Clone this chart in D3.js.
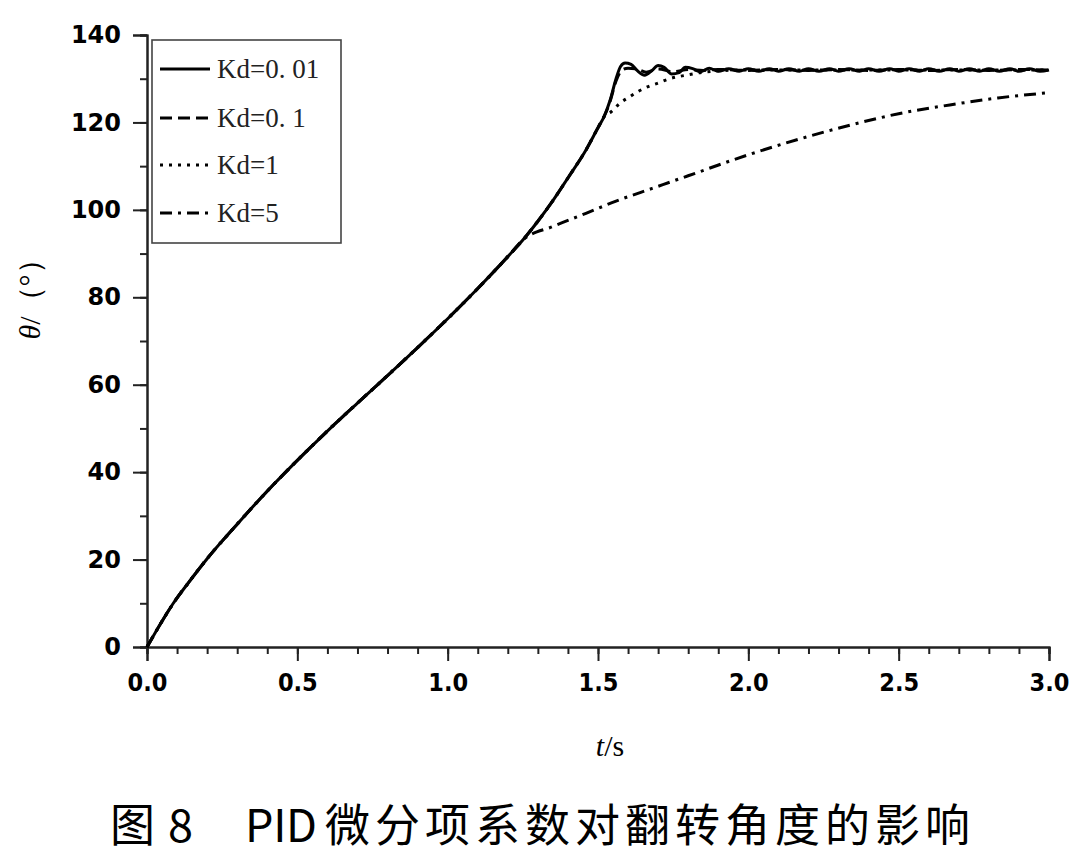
<!DOCTYPE html>
<html><head><meta charset="utf-8">
<script src="https://cdn.jsdelivr.net/npm/d3@7"></script>
<style>body{margin:0;background:#fff}svg{display:block}</style>
</head><body>
<svg id="c" width="1080" height="857"></svg>
<script>
// ---- data ----
const xTicks = [0, 0.5, 1.0, 1.5, 2.0, 2.5, 3.0];
const yTicks = [0, 20, 40, 60, 80, 100, 120, 140];
const seriesNames = ["Kd=0. 01", "Kd=0. 1", "Kd=1", "Kd=5"];

// shared rise (all Kd)
const baseT = [0, 0.05, 0.0875, 0.14, 0.2, 0.3, 0.42, 0.5, 0.6, 0.7, 0.8, 0.9, 1.0, 1.1, 1.2, 1.25];
const baseV = [0, 5.9, 10.0, 14.9, 20.2, 28.1, 37.1, 42.7, 49.4, 55.8, 62.1, 68.5, 75.1, 82.0, 89.3, 93.1];
// shared continuation for Kd = 0.01, 0.1, 1
const midT = [1.3, 1.35, 1.4, 1.46, 1.5, 1.52];
const midV = [97.4, 102.1, 107.3, 113.7, 118.8, 121.3];

const kd001T = [1.54, 1.56, 1.575, 1.59, 1.61, 1.63, 1.655, 1.68, 1.70, 1.72, 1.745, 1.77, 1.79, 1.815, 1.84,
  1.87, 1.90, 1.935, 1.97, 2.0, 2.035, 2.07, 2.10, 2.135, 2.17, 2.20, 2.235, 2.27, 2.30, 2.335, 2.37, 2.40,
  2.435, 2.47, 2.50, 2.535, 2.57, 2.60, 2.635, 2.67, 2.70, 2.735, 2.77, 2.80, 2.835, 2.87, 2.90, 2.935, 2.97, 3.0];
const kd001V = [125.0, 130.0, 132.8, 133.6, 133.3, 131.9, 130.8, 131.9, 133.0, 132.6, 131.1, 131.4, 132.6, 132.3, 131.6,
  132.4, 131.7, 132.3, 131.7, 132.3, 131.7, 132.3, 131.7, 132.3, 131.7, 132.3, 131.7, 132.3, 131.7, 132.3, 131.7, 132.3,
  131.7, 132.3, 131.7, 132.3, 131.7, 132.3, 131.7, 132.3, 131.7, 132.3, 131.7, 132.3, 131.7, 132.3, 131.7, 132.3, 131.7, 132.0];

const kd01T = [1.54, 1.56, 1.58, 1.60, 1.63, 1.66, 1.70, 1.75, 1.80, 1.85, 1.9, 2.0, 2.1, 2.2, 2.3, 2.4, 2.5, 2.6, 2.7, 2.8, 2.9, 3.0];
const kd01V = [124.8, 129.5, 132.0, 132.4, 132.2, 131.5, 132.2, 131.6, 132.1, 131.9, 132.1, 131.9, 132.1, 131.9, 132.1, 131.9, 132.1, 131.9, 132.1, 131.9, 132.1, 132.0];

const kd1T = [1.545, 1.573, 1.606, 1.634, 1.667, 1.70, 1.734, 1.80, 1.85, 1.9, 2.0, 2.5, 3.0];
const kd1V = [122.5, 124.4, 125.9, 127.1, 128.2, 129.0, 129.9, 130.9, 131.5, 131.8, 132.0, 132.0, 132.0];

const kd5T = [1.35, 1.46, 1.56, 1.68, 1.8, 2.0, 2.17, 2.34, 2.5, 2.67, 2.83, 3.0];
const kd5V = [96.2, 99.2, 102.0, 104.9, 107.8, 112.6, 116.2, 119.4, 122.0, 124.0, 125.6, 126.8];

// ---- build ----
const zip = (T, V) => T.map((t, i) => [t, V[i]]);
const base = zip(baseT, baseV), mid = zip(midT, midV);
const series = [
  {name: seriesNames[0], pts: base.concat(mid, zip(kd001T, kd001V)), dash: null},
  {name: seriesNames[1], pts: base.concat(mid, zip(kd01T, kd01V)), dash: "12,6"},
  {name: seriesNames[2], pts: base.concat(mid, zip(kd1T, kd1V)), dash: "3,6"},
  {name: seriesNames[3], pts: base.concat(zip(kd5T, kd5V)), dash: "12,6,3,6"}
];

const svg = d3.select("#c");
const x = d3.scaleLinear().domain([0, 3]).range([147, 1049]);
const y = d3.scaleLinear().domain([0, 140]).range([647, 35]);

// axes
const gx = svg.append("g").attr("transform", "translate(0,647)")
  .call(d3.axisBottom(x).tickValues(d3.range(0, 3.0001, 0.1)).tickSize(7).tickFormat(""));
const gxMaj = svg.append("g").attr("transform", "translate(0,647)")
  .call(d3.axisBottom(x).tickValues(xTicks).tickSize(14).tickPadding(12).tickFormat(d3.format(".1f")));
const gy = svg.append("g").attr("transform", "translate(147,0)")
  .call(d3.axisLeft(y).tickValues(d3.range(0, 141, 10)).tickSize(7).tickFormat(""));
const gyMaj = svg.append("g").attr("transform", "translate(147,0)")
  .call(d3.axisLeft(y).tickValues(yTicks).tickSize(14).tickPadding(12).tickFormat(d3.format("d")));
[gx, gxMaj, gy, gyMaj].forEach(g => {
  g.selectAll("path.domain").attr("stroke", "#222").attr("stroke-width", 2);
  g.selectAll(".tick line").attr("stroke", "#222").attr("stroke-width", 2);
});
gxMaj.selectAll("text").attr("font-family", "'DejaVu Sans Condensed','DejaVu Sans',sans-serif")
  .attr("font-weight", "bold").attr("font-size", 25).attr("fill", "#000");
gyMaj.selectAll("text").attr("font-family", "'DejaVu Sans',sans-serif")
  .attr("font-weight", "bold").attr("font-size", 24).attr("fill", "#000");

// lines
const line = d3.line().x(d => x(d[0])).y(d => y(d[1])).curve(d3.curveMonotoneX);
series.slice().reverse().forEach(s => {
  svg.append("path").attr("d", line(s.pts)).attr("fill", "none").attr("stroke", "#000")
    .attr("stroke-width", 3).attr("stroke-dasharray", s.dash);
});

// legend
const lg = svg.append("g");
lg.append("rect").attr("x", 152).attr("y", 40).attr("width", 189).attr("height", 203)
  .attr("fill", "#fff").attr("stroke", "#444").attr("stroke-width", 1.6);
const rowY = [69, 118, 165, 213];
series.forEach((s, i) => {
  lg.append("line").attr("x1", 160).attr("x2", 210).attr("y1", rowY[i]).attr("y2", rowY[i])
    .attr("stroke", "#000").attr("stroke-width", 3).attr("stroke-dasharray", s.dash);
  lg.append("text").attr("x", 217).attr("y", rowY[i] + 9).text(s.name)
    .attr("font-family", "'Liberation Serif','DejaVu Serif',serif").attr("font-size", 27).attr("fill", "#222");
});

// axis titles
const xt = svg.append("text").attr("x", 610).attr("y", 756).attr("text-anchor", "middle")
  .attr("font-family", "'Liberation Serif',serif").attr("font-size", 30).attr("fill", "#000");
xt.append("tspan").attr("font-style", "italic").text("t");
xt.append("tspan").text("/s");
const yt = svg.append("text").attr("transform", "translate(40,292) rotate(-90)").attr("text-anchor", "middle")
  .attr("font-family", "'Liberation Serif',serif").attr("font-size", 30).attr("fill", "#000");
yt.append("tspan").attr("font-style", "italic").text("θ");
yt.append("tspan").text("/（°）");

// caption
const capFont = "'Noto Sans CJK SC',sans-serif";
const capY = 842, capSize = 45;
svg.append("text").attr("x", 110).attr("y", capY).text("图").attr("font-family", capFont).attr("font-size", capSize);
svg.append("text").attr("x", 168).attr("y", capY).text("8").attr("font-family", capFont).attr("font-size", capSize);
svg.append("text").attr("x", 245).attr("y", capY).text("PID").attr("font-family", capFont).attr("font-size", capSize)
  .attr("textLength", 72).attr("lengthAdjust", "spacing");
svg.append("text").attr("x", 325).attr("y", capY).text("微分项系数对翻转角度的影响").attr("font-family", capFont)
  .attr("font-size", capSize).attr("textLength", 645).attr("lengthAdjust", "spacing");
</script>
</body></html>
